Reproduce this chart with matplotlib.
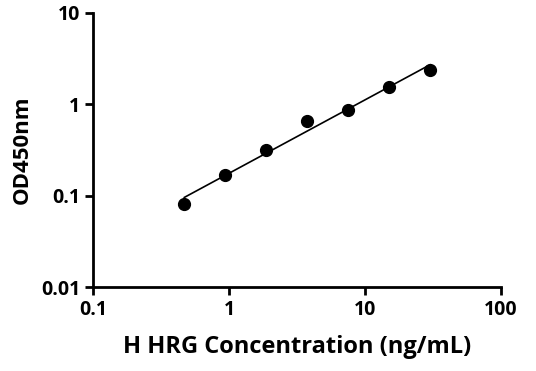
import numpy as np
import matplotlib.pyplot as plt

plt.rcParams['font.family'] = ['Open Sans', 'DejaVu Sans']
plt.rcParams['font.weight'] = 'bold'

# standard concentrations (ng/mL) and measured OD450
conc = [0.469, 0.938, 1.875, 3.75, 7.5, 15, 30]
od = [0.081, 0.168, 0.314, 0.652, 0.86, 1.55, 2.39]

x_ticks = [0.1, 1, 10, 100]
x_labels = ['0.1', '1', '10', '100']
y_ticks = [0.01, 0.1, 1, 10]
y_labels = ['0.01', '0.1', '1', '10']

# straight-line fit in log-log space
coef = np.polyfit(np.log10(conc), np.log10(od), 1)
xf = np.logspace(np.log10(conc[0]), np.log10(conc[-1]), 100)
yf = 10 ** np.polyval(coef, np.log10(xf))

fig = plt.figure(figsize=(5.36, 3.71), dpi=100)
ax = fig.add_axes([0.1735, 0.2264, 0.7615, 0.7386])

ax.plot(xf, yf, color='black', lw=1.2)
ax.plot(conc, od, 'o', color='black', markersize=8.5)

ax.set_xscale('log')
ax.set_yscale('log')
ax.set_xlim(0.1, 100)
ax.set_ylim(0.01, 10)
ax.set_xticks(x_ticks)
ax.set_xticklabels(x_labels)
ax.set_yticks(y_ticks)
ax.set_yticklabels(y_labels)
ax.minorticks_off()

for s in ['top', 'right']:
    ax.spines[s].set_visible(False)
for s in ['left', 'bottom']:
    ax.spines[s].set_linewidth(2)
ax.tick_params(width=2, length=6, labelsize=14, pad=3)

ax.set_xlabel('H HRG Concentration (ng/mL)', fontsize=17, fontweight='bold', labelpad=11)
ax.set_ylabel('OD450nm', fontsize=16, fontweight='bold', labelpad=6)

fig.savefig('out.png', dpi=100)
